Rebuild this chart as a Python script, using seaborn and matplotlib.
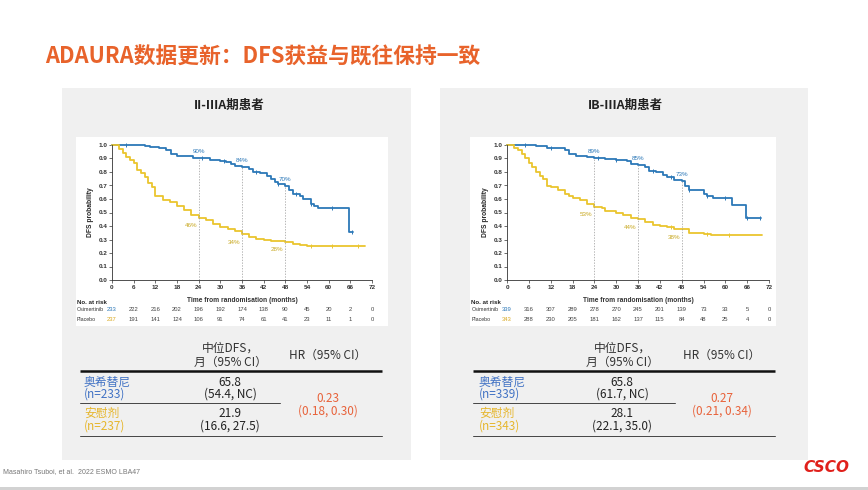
import numpy as np
import pandas as pd
import seaborn as sns
import matplotlib.pyplot as plt
from matplotlib.patches import Rectangle

sns.set_theme(style="white")
plt.rcParams["font.family"] = ["Noto Sans CJK SC", "DejaVu Sans"]

W, H = 868, 490
NARROW = ["Liberation Sans Narrow", "Liberation Sans", "DejaVu Sans"]

# ---- data ----
months = list(range(0, 73, 6))
milestones = [24, 36, 48]

# II-IIIA
osi_l_t = [0, 9, 10.5, 13, 15, 16.4, 18, 21, 22.5, 24, 27, 30, 31.5, 33, 34, 36, 38, 39, 41, 43, 44, 45, 46,
           48, 49, 50, 52, 53, 55, 56, 57, 65.6, 66.8]
osi_l_s = [1.0, 0.995, 0.985, 0.975, 0.965, 0.935, 0.92, 0.915, 0.905, 0.90, 0.89, 0.885, 0.875, 0.86, 0.845,
           0.84, 0.825, 0.80, 0.79, 0.77, 0.745, 0.725, 0.71, 0.695, 0.67, 0.635, 0.62, 0.60, 0.56, 0.55, 0.53,
           0.355, 0.355]
pla_l_t = [0, 2, 3, 4, 5, 6, 7, 8, 9, 10, 11, 12, 14, 16, 18, 20, 22, 24, 26, 28, 30, 32, 34, 36, 38, 40, 42,
           44, 48, 50, 52, 54, 70]
pla_l_s = [1.0, 0.97, 0.94, 0.91, 0.89, 0.865, 0.815, 0.79, 0.765, 0.72, 0.69, 0.62, 0.595, 0.575, 0.545, 0.52,
           0.48, 0.46, 0.445, 0.415, 0.395, 0.38, 0.36, 0.34, 0.32, 0.305, 0.30, 0.29, 0.285, 0.27, 0.26, 0.25,
           0.25]
osi_l_pct = ["90%", "84%", "70%"]
pla_l_pct = ["46%", "34%", "28%"]
risk_osi_l = [233, 222, 216, 202, 196, 192, 174, 138, 90, 45, 20, 2, 0]
risk_pla_l = [237, 191, 141, 124, 106, 91, 74, 61, 41, 23, 11, 1, 0]

# IB-IIIA
osi_r_t = [0, 6, 8, 10, 11, 14, 16, 17, 19, 22, 24, 27, 30, 33, 34, 36, 38, 39, 41, 43, 44, 46, 48, 49, 50,
           52, 54, 55, 56.6, 61.8, 65.8, 69.7]
osi_r_s = [1.0, 0.997, 0.993, 0.99, 0.98, 0.975, 0.96, 0.93, 0.92, 0.91, 0.90, 0.895, 0.89, 0.88, 0.86, 0.85,
           0.84, 0.81, 0.80, 0.78, 0.76, 0.74, 0.73, 0.70, 0.67, 0.665, 0.64, 0.62, 0.61, 0.555, 0.46, 0.46]
pla_r_t = [0, 2, 3, 4, 5, 6, 7, 8, 9, 10, 11, 12, 14, 16, 17, 18, 20, 22, 24, 26, 27, 30, 32, 34, 36, 38, 40,
           42, 44, 46, 48, 50, 52, 54, 56, 70]
pla_r_s = [1.0, 0.98, 0.96, 0.93, 0.90, 0.87, 0.84, 0.80, 0.77, 0.75, 0.70, 0.69, 0.67, 0.64, 0.62, 0.61,
           0.59, 0.56, 0.54, 0.53, 0.51, 0.495, 0.48, 0.46, 0.45, 0.43, 0.41, 0.40, 0.39, 0.38, 0.375, 0.35,
           0.345, 0.34, 0.335, 0.335]
osi_r_pct = ["89%", "85%", "73%"]
pla_r_pct = ["53%", "44%", "38%"]
risk_osi_r = [339, 316, 307, 289, 278, 270, 245, 201, 139, 73, 33, 5, 0]
risk_pla_r = [343, 288, 230, 205, 181, 162, 137, 115, 84, 48, 25, 4, 0]

# censor marks
cens_osi_l = [4, 25, 31, 40, 46, 51, 55, 61, 66.5]
cens_pla_l = [55, 61, 68]
cens_osi_r = [5, 12, 25, 30, 40, 45, 50, 55, 60, 66, 69.5]
cens_pla_r = [45, 55, 61]

tables = {
    "left": dict(n_osi="(n=233)", med_osi="65.8", ci_osi="(54.4, NC)",
                 n_pla="(n=237)", med_pla="21.9", ci_pla="(16.6, 27.5)",
                 hr="0.23", hr_ci="(0.18, 0.30)"),
    "right": dict(n_osi="(n=339)", med_osi="65.8", ci_osi="(61.7, NC)",
                  n_pla="(n=343)", med_pla="28.1", ci_pla="(22.1, 35.0)",
                  hr="0.27", hr_ci="(0.21, 0.34)"),
}

BLUE = "#2c78b8"
YELLOW = "#eac52e"
T_BLUE = "#4172c4"
T_YELLOW = "#e6b62c"
ORANGE = "#e8623a"


def step_at(t, s, x):
    i = np.searchsorted(t, x, side="right") - 1
    return np.asarray(s)[i]


def px_axes(fig, x0, y0, x1, y1):
    return fig.add_axes([x0 / W, 1 - y1 / H, (x1 - x0) / W, (y1 - y0) / H])


fig = plt.figure(figsize=(W / 100, H / 100), dpi=100)
bg = fig.add_axes([0, 0, 1, 1])
bg.set_xlim(0, W)
bg.set_ylim(H, 0)
bg.axis("off")

# slide decorations
bg.text(45, 57, "ADAURA数据更新：DFS获益与既往保持一致", color="#e8632b", fontsize=15.7,
        fontweight="bold", va="center", ha="left")
for x0, x1 in [(62, 411), (440, 808)]:
    bg.add_patch(Rectangle((x0, 88), x1 - x0, 372, color="#f0f0f0", lw=0))
bg.add_patch(Rectangle((76, 137), 312, 189, color="white", lw=0))
bg.add_patch(Rectangle((470, 137), 306, 189, color="white", lw=0))
bg.add_patch(Rectangle((0, 487), W, 3, color="#d2d2d2", lw=0))
bg.text(229, 105, "II-IIIA期患者", fontsize=9, fontweight="bold", ha="center", va="center", color="#222")
bg.text(625, 105, "IB-IIIA期患者", fontsize=9, fontweight="bold", ha="center", va="center", color="#222")
bg.text(3, 472, "Masahiro Tsuboi, et al.  2022 ESMO LBA47", fontsize=5, color="#777", va="center",
        family=NARROW)
bg.text(849, 467, "CSCO", fontsize=11, color="#e0201b", fontweight="bold", style="italic",
        ha="right", va="center", family=["DejaVu Sans"])


def draw_km(x0, x1, osi_t, osi_s, pla_t, pla_s, osi_pct, pla_pct, r_osi, r_pla, c_osi, c_pla, lab_x):
    ax = px_axes(fig, x0, 145, x1, 280)
    df = pd.concat([
        pd.DataFrame({"t": osi_t, "s": osi_s, "arm": "Osimertinib"}),
        pd.DataFrame({"t": pla_t, "s": pla_s, "arm": "Placebo"}),
    ])
    sns.lineplot(data=df, x="t", y="s", hue="arm", palette={"Osimertinib": BLUE, "Placebo": YELLOW},
                 drawstyle="steps-post", legend=False, linewidth=1.3, ax=ax, clip_on=False)
    ax.scatter(c_osi, [step_at(osi_t, osi_s, c) for c in c_osi], marker="|", s=7, color=BLUE, lw=0.7,
               zorder=3, clip_on=False)
    ax.scatter(c_pla, [step_at(pla_t, pla_s, c) for c in c_pla], marker="|", s=7, color=YELLOW, lw=0.7,
               zorder=3, clip_on=False)
    for m, po, pp in zip(milestones, osi_pct, pla_pct):
        vo = step_at(osi_t, osi_s, m)
        vp = step_at(pla_t, pla_s, m)
        ax.vlines(m, 0, vo, colors="#999", linestyles=(0, (2, 2)), linewidth=0.5)
        ax.text(m, vo + 0.03, po, fontsize=4.5, color=BLUE, ha="center", va="bottom", family=NARROW)
        ax.text(m - 2.2, vp - 0.04, pp, fontsize=4.5, color="#c8a820", ha="center", va="top", family=NARROW)
    ax.set_xlim(0, 72)
    ax.set_ylim(0, 1)
    ax.set_xticks(months)
    ax.set_yticks(np.arange(0, 1.01, 0.1))
    ax.set_yticklabels([f"{v:.1f}" for v in np.arange(0, 1.01, 0.1)])
    ax.tick_params(bottom=True, left=True, labelsize=4.6, length=2, width=0.5, pad=1.5, colors="#333")
    for lab in ax.get_xticklabels() + ax.get_yticklabels():
        lab.set_family(NARROW)
        lab.set_fontweight("bold")
    for sp in ["top", "right"]:
        ax.spines[sp].set_visible(False)
    for sp in ["left", "bottom"]:
        ax.spines[sp].set_color("#333")
        ax.spines[sp].set_linewidth(0.6)
    ax.set_facecolor("none")
    ax.set_xlabel("")
    ax.set_ylabel("DFS probability", fontsize=4.8, labelpad=3, family=NARROW, fontweight="bold")
    tr = ax.get_xaxis_transform()
    ax.text(36, -0.15, "Time from randomisation (months)", transform=tr, fontsize=4.8, ha="center",
            va="center", family=NARROW, fontweight="bold", color="#333")
    ax.text(lab_x, -0.163, "No. at risk", transform=tr, fontsize=4.4, ha="left", va="center",
            family=NARROW, fontweight="bold", color="#222")
    ax.text(lab_x, -0.222, "Osimertinib", transform=tr, fontsize=3.8, ha="left", va="center",
            family=NARROW, color="#333")
    ax.text(lab_x, -0.289, "Placebo", transform=tr, fontsize=3.8, ha="left", va="center",
            family=NARROW, color="#333")
    for i, (m, a, b) in enumerate(zip(months, r_osi, r_pla)):
        ax.text(m, -0.222, str(a), transform=tr, fontsize=4.2, ha="center", va="center", family=NARROW,
                color=BLUE if i == 0 else "#444")
        ax.text(m, -0.289, str(b), transform=tr, fontsize=4.2, ha="center", va="center", family=NARROW,
                color="#d8a820" if i == 0 else "#444")
    ax.grid(False)
    return ax


draw_km(112, 372, osi_l_t, osi_l_s, pla_l_t, pla_l_s, osi_l_pct, pla_l_pct, risk_osi_l, risk_pla_l,
        cens_osi_l, cens_pla_l, -9.7)
draw_km(507, 769, osi_r_t, osi_r_s, pla_r_t, pla_r_s, osi_r_pct, pla_r_pct, risk_osi_r, risk_pla_r,
        cens_osi_r, cens_pla_r, -9.8)


def draw_table(t, x0, x1, x_mid_end, c_lab, c_med, c_hr):
    bg.text(c_med, 348, "中位DFS，", fontsize=8.5, ha="center", va="center", color="#333")
    bg.text(c_med, 362, "月（95% CI）", fontsize=8.5, ha="center", va="center", color="#333")
    bg.text(c_hr, 355, "HR（95% CI）", fontsize=8.5, ha="center", va="center", color="#333")
    bg.plot([x0, x1], [371, 371], color="#111", lw=1.8, solid_capstyle="butt")
    bg.plot([x0, x_mid_end], [403, 403], color="#444", lw=0.7)
    bg.plot([x0, x1], [436, 436], color="#444", lw=0.7)
    bg.text(c_lab, 382, "奥希替尼", fontsize=8.5, color=T_BLUE, va="center", ha="left")
    bg.text(c_lab, 394, t["n_osi"], fontsize=8.5, color=T_BLUE, va="center", ha="left")
    bg.text(c_lab, 413, "安慰剂", fontsize=8.5, color=T_YELLOW, va="center", ha="left")
    bg.text(c_lab, 426, t["n_pla"], fontsize=8.5, color=T_YELLOW, va="center", ha="left")
    bg.text(c_med, 382, t["med_osi"], fontsize=8.5, color="#222", va="center", ha="center")
    bg.text(c_med, 394, t["ci_osi"], fontsize=8.5, color="#222", va="center", ha="center")
    bg.text(c_med, 413, t["med_pla"], fontsize=8.5, color="#222", va="center", ha="center")
    bg.text(c_med, 426, t["ci_pla"], fontsize=8.5, color="#222", va="center", ha="center")
    bg.text(c_hr, 398, t["hr"], fontsize=8.5, color=ORANGE, va="center", ha="center")
    bg.text(c_hr, 411, t["hr_ci"], fontsize=8.5, color=ORANGE, va="center", ha="center")


draw_table(tables["left"], 80, 382, 280, 84, 230, 328)
draw_table(tables["right"], 473, 775, 675, 479, 622, 722)

fig.savefig("out.png", dpi=100)
